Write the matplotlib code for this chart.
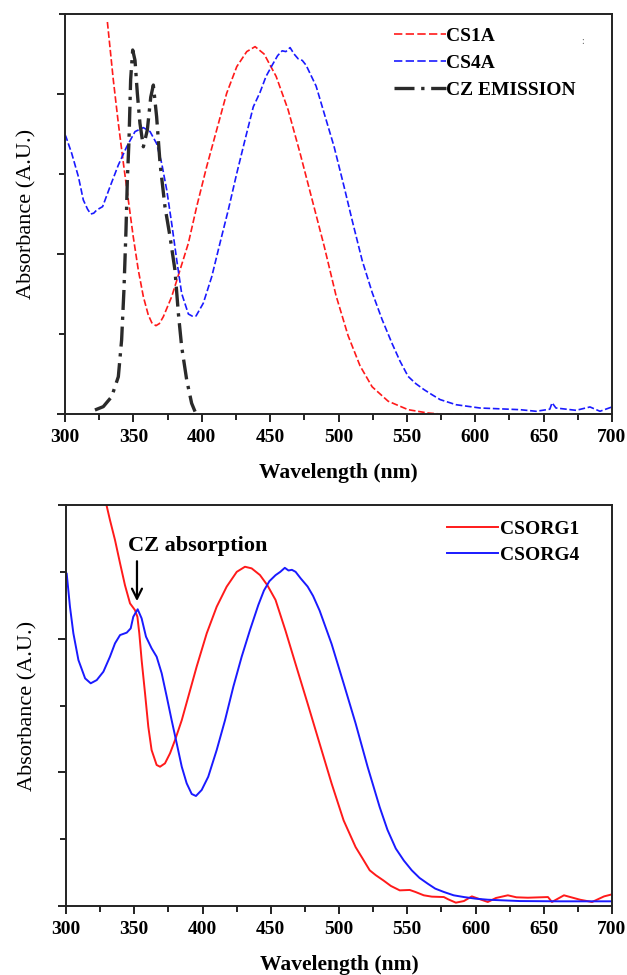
import numpy as np
import matplotlib
matplotlib.use("Agg")
import matplotlib.pyplot as plt
from matplotlib.ticker import MultipleLocator, NullFormatter

plt.rcParams['font.family'] = ['Liberation Serif', 'DejaVu Serif']

# ---------------- Top panel data ----------------
cs1a_wl = [331, 335.3, 339, 342.7, 346.3, 349.9, 353.6, 357.3, 360.9, 363.5, 366.5, 369,
           371.9, 378, 384.1, 390.2, 396.3, 403.6, 410.9, 418.2, 425.6, 432.9, 439,
           445.6, 454.4, 463.2, 471.9, 480.7, 489.5, 498.2, 507, 515.8, 524.6, 536.3,
           550.9, 565.5, 574.3, 600]
cs1a_abs = [2.45, 2.09, 1.817, 1.567, 1.3375, 1.108, 0.90, 0.733, 0.619, 0.57, 0.552, 0.565,
            0.608, 0.733, 0.90, 1.067, 1.296, 1.546, 1.775, 2.004, 2.171, 2.265, 2.296,
            2.25, 2.11, 1.90, 1.63, 1.34, 1.05, 0.74, 0.49, 0.30, 0.17, 0.08,
            0.027, 0.006, 0.0, 0.0]

cs4a_wl = [300, 300.7, 304.9, 309.8, 313.4, 316.5, 318.8, 321, 323.2, 327.5, 332.9, 339,
           345.1, 351.2, 357.3, 362.2, 367, 370.7, 374.4, 378, 381.7, 385.3, 390.2,
           393, 395.8, 401.1, 407.3, 413.3, 419.4, 425.6, 431.6, 437.7, 442.6, 447,
           451.5, 455.5, 458.8, 461.5, 464.6, 467.5, 470.5, 473.5, 476.3, 483.6, 489.5,
           496.8, 504.1, 510, 517.3, 524.6, 531.9, 539.2, 545, 550.9, 556.5, 562.6,
           568.5, 574.3, 586, 603.5, 632.8, 644.5, 654.5, 656.2, 659, 673.7, 683.9,
           691.2, 700]
cs4a_abs = [1.746, 1.733, 1.629, 1.483, 1.3375, 1.28, 1.25, 1.255, 1.275, 1.296, 1.42, 1.556,
            1.67, 1.765, 1.79, 1.765, 1.69, 1.567, 1.40, 1.192, 0.9625, 0.754, 0.625,
            0.612, 0.6125, 0.692, 0.858, 1.067, 1.275, 1.504, 1.7125, 1.92, 2.01, 2.11,
            2.18, 2.24, 2.27, 2.265, 2.29, 2.25, 2.22, 2.21, 2.18, 2.05, 1.88,
            1.67, 1.42, 1.21, 0.96, 0.76, 0.59, 0.44, 0.33, 0.235, 0.19, 0.152,
            0.12, 0.09, 0.058, 0.0375, 0.027, 0.017, 0.03, 0.07, 0.0375, 0.023, 0.044,
            0.017, 0.044]

cz_wl = [321.9, 328, 334.1, 339, 341.4, 343.1, 344.6, 345.6, 346.8, 348, 349.5, 351.2,
         352.9, 354.8, 357.3, 360.2, 362.7, 364.6, 367, 369.5, 373.1, 376.8, 380.4,
         382.9, 385.3, 389, 392.6, 395.1]
cz_em = [0.025, 0.046, 0.108, 0.233, 0.4625, 0.775, 1.15, 1.4625, 1.7125, 2.09, 2.275, 2.21,
         2.004, 1.817, 1.67, 1.775, 1.98, 2.056, 1.858, 1.567, 1.296, 1.108, 0.90,
         0.629, 0.421, 0.2125, 0.067, 0.015]

# ---------------- Bottom panel data ----------------
g1_wl = [328.5, 332.2, 335.9, 339.6, 343.2, 346.9, 350.5, 352.3, 353.7, 355.4, 357.9, 360.3,
         362.7, 366.4, 368.9, 372.5, 376.2, 379.9, 384.8, 389.6, 395.7, 403.1, 410.4,
         417.7, 425.1, 431.1, 436, 442.1, 447.5, 453.5, 460.8, 468.2, 477, 485.8,
         494.6, 503.4, 512.2, 517, 522.5, 527, 532.7, 538, 544.5, 551.8, 556, 562.1,
         568, 576.8, 580, 585.6, 591.5, 597.3, 609, 615, 623.7, 630, 638.4, 653.1,
         656, 664.8, 676.6, 685.4, 694.2, 700]
g1_abs = [3.05, 2.888, 2.738, 2.564, 2.40, 2.264, 2.214, 2.164, 2.04, 1.84, 1.591, 1.341,
          1.167, 1.055, 1.042, 1.067, 1.142, 1.242, 1.39, 1.566, 1.79, 2.04, 2.239,
          2.389, 2.50, 2.538, 2.526, 2.476, 2.40, 2.29, 2.06, 1.81, 1.515, 1.215,
          0.916, 0.64, 0.44, 0.36, 0.267, 0.23, 0.19, 0.15, 0.117,
          0.12, 0.105, 0.08, 0.07, 0.067, 0.05, 0.025, 0.037, 0.072, 0.03, 0.06, 0.08,
          0.065, 0.062, 0.067, 0.03, 0.08, 0.047, 0.03, 0.072, 0.087]

g4_wl = [300, 300.5, 302.9, 305.4, 309.1, 314, 318.1, 322.5, 327.4, 332.2, 335.9, 339.6,
         344.5, 347.4, 349.3, 352.5, 355.4, 358.6, 362.7, 366.4, 370.1, 373.8, 377.4,
         381.1, 384.8, 388.4, 392.1, 395.2, 399.4, 404.2, 410.4, 416.5, 422.6, 428.7,
         434.8, 440.9, 445, 449, 453.5, 457, 460.3, 463, 465.5, 468.2, 472, 477,
         481, 485.8, 494.6, 503.4, 512.2, 521, 529.8, 535.5, 541.6, 547.5, 553.3,
         559, 565, 570.5, 576.8, 584, 591.5, 600, 609, 632.5, 661.9, 700]
g4_abs = [2.49, 2.488, 2.239, 2.04, 1.84, 1.703, 1.666, 1.69, 1.753, 1.865, 1.965, 2.027,
          2.045, 2.077, 2.164, 2.22, 2.152, 2.015, 1.928, 1.865, 1.741, 1.566, 1.39,
          1.217, 1.042, 0.918, 0.838, 0.823, 0.868, 0.967, 1.167, 1.39, 1.641, 1.865,
          2.065, 2.252, 2.36, 2.43, 2.475, 2.50, 2.53, 2.51, 2.515, 2.50, 2.45, 2.39,
          2.32, 2.21, 1.96, 1.665, 1.365, 1.04, 0.74, 0.57, 0.43, 0.34, 0.267,
          0.21, 0.167, 0.13, 0.105, 0.08, 0.067, 0.055, 0.047, 0.037, 0.035, 0.035]

top_labels = ["CS1A", "CS4A", "CZ EMISSION"]
bottom_labels = ["CSORG1", "CSORG4"]
xticks = [300, 350, 400, 450, 500, 550, 600, 650, 700]

W, H = 627, 975
fig = plt.figure(figsize=(W / 100, H / 100), dpi=100)

ax1 = fig.add_axes([65 / W, 1 - 414 / H, (612 - 65) / W, (414 - 14) / H])
ax2 = fig.add_axes([66 / W, 1 - 906 / H, (612 - 66) / W, (906 - 505) / H])


def style(ax, ymax):
    ax.set_xlim(300, 700)
    ax.set_ylim(0, ymax)
    ax.set_xticks(xticks)
    ax.xaxis.set_minor_locator(MultipleLocator(25))
    ax.yaxis.set_major_locator(MultipleLocator(1))
    ax.yaxis.set_minor_locator(MultipleLocator(0.5))
    ax.yaxis.set_major_formatter(NullFormatter())
    ax.tick_params(axis='both', which='both', direction='out', top=False, right=False,
                   width=1.4, color='#222222')
    ax.tick_params(axis='both', which='major', length=6)
    ax.tick_params(axis='both', which='minor', length=4)
    ax.tick_params(axis='x', labelsize=14, pad=5)
    for lab in ax.get_xticklabels():
        lab.set_fontweight('bold')
    for s in ax.spines.values():
        s.set_linewidth(1.4)
        s.set_color('#222222')
    ax.set_xlabel("Wavelength (nm)", fontsize=15.5, fontweight='bold', labelpad=12)
    ax.set_ylabel("Absorbance (A.U.)", fontsize=16, labelpad=11)


# Top panel
ax1.plot(cs1a_wl, cs1a_abs, color='#ff1a1a', lw=1.2, ls=(0, (4, 1.6)), label=top_labels[0])
ax1.plot(cs4a_wl, cs4a_abs, color='#1a1aff', lw=1.2, ls=(0, (4, 1.6)), label=top_labels[1])
ax1.plot(cz_wl, cz_em, color='#2a2a2a', lw=2.4, ls=(0, (6, 2, 1, 2)), label=top_labels[2])
style(ax1, 2.5)
leg1 = ax1.legend(loc='upper left', bbox_to_anchor=(0.573, 1.005), frameon=False,
                  prop={'family': 'Liberation Serif', 'weight': 'bold', 'size': 14},
                  handlelength=2.65, handletextpad=0.05, labelspacing=0.48, borderpad=0.3)
for lh in leg1.get_lines()[:2]:
    lh.set_linestyle((0, (5, 2)))
ax1.text(0.946, 0.93, ":", transform=ax1.transAxes, fontsize=7, color='#555555',
         ha='center', va='center')

# Bottom panel
ax2.plot(g1_wl, g1_abs, color='#ff1a1a', lw=1.4, label=bottom_labels[0])
ax2.plot(g4_wl, g4_abs, color='#1a1aff', lw=1.4, label=bottom_labels[1])
style(ax2, 3.0)
leg2 = ax2.legend(loc='upper left', bbox_to_anchor=(0.67, 1.0), frameon=False,
                  prop={'family': 'Liberation Serif', 'weight': 'bold', 'size': 14},
                  handlelength=2.6, handletextpad=0.1, labelspacing=0.4, borderpad=0.3)
ax2.annotate("", xy=(352, 2.26), xytext=(352, 2.6),
             arrowprops=dict(arrowstyle='->', color='black', lw=1.6, mutation_scale=18))
ax2.text(396.5, 2.69, "CZ absorption", fontsize=16, fontweight='bold', ha='center', va='center')

fig.savefig("out.png", dpi=100)
